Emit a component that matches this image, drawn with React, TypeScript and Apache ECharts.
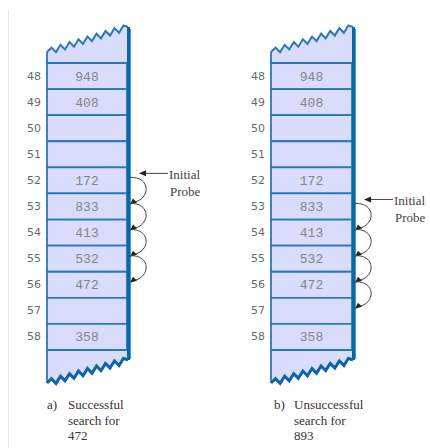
import React, { useEffect, useRef } from "react";
import * as echarts from "echarts";

// Hash table slots and stored keys (blank = empty slot)
const slots = ["48", "49", "50", "51", "52", "53", "54", "55", "56", "57", "58"];
const keys = ["948", "408", "", "", "172", "833", "413", "532", "472", "", "358"];

// Linear probe sequences: [from slot, to slot]
const probesA = [["52", "53"], ["53", "54"], ["54", "55"], ["55", "56"]];
const probesB = [["53", "54"], ["54", "55"], ["55", "56"], ["56", "57"]];
const initialA = "52";
const initialB = "53";
const probeLabel = ["Initial", "Probe"];

const captionA = ["a)", "Successful", "search for", "472"];
const captionB = ["b)", "Unsuccessful", "search for", "893"];

const FILL = "#d9dcfb";
const LINE = "#2a78b8";
const EDGE = "#0f63a8";
const TEAL = "#3fa6a0";
const ARC = "#444";

function zigzag(xl: number, yl: number, xr: number, yr: number, n: number, amp: number) {
  const pts: number[][] = [];
  for (let j = 0; j <= 2 * n; j++) {
    const t = j / (2 * n);
    const off = j === 0 || j === 2 * n ? 0 : j % 2 ? -amp : amp;
    pts.push([xl + t * (xr - xl), yl + t * (yr - yl) + off]);
  }
  return pts;
}

function cellRender(params: any, api: any) {
  const i = api.value(1);
  const [x0, yc] = api.coord([0, i]);
  const [x1] = api.coord([1, i]);
  const h = api.size([0, 1])[1];
  const yt = yc - h / 2;
  return {
    type: "group",
    children: [
      {
        type: "rect",
        shape: { x: x0, y: yt, width: x1 - x0, height: h },
        style: { fill: FILL, stroke: LINE, lineWidth: 1.8 },
      },
      {
        type: "text",
        style: {
          text: keys[params.dataIndex],
          x: (x0 + x1) / 2,
          y: yc + 1,
          align: "center",
          verticalAlign: "middle",
          fill: "#858585",
          font: '13px "Liberation Mono"',
        },
      },
    ],
  };
}

function edgeRender(params: any, api: any) {
  const i = api.value(1);
  const kind = api.value(2);
  const [x0, yc] = api.coord([0, i]);
  const [x1] = api.coord([1, i]);
  const h = api.size([0, 1])[1];
  if (kind === 0) {
    const yb = yc - h / 2;
    const zz = zigzag(x0, yb - 11, x1 + 1, yb - 36, 9, 3);
    return {
      type: "group",
      children: [
        {
          type: "polygon",
          shape: { points: [[x0, yb], ...zz, [x1, yb]] },
          style: { fill: FILL },
        },
        {
          type: "polyline",
          shape: { points: zz },
          style: { stroke: LINE, lineWidth: 2, fill: null },
        },
        {
          type: "line",
          shape: { x1: x0, y1: yb - 11, x2: x0, y2: yb },
          style: { stroke: LINE, lineWidth: 1.8 },
        },
        {
          type: "line",
          shape: { x1: x0, y1: yb, x2: x1, y2: yb },
          style: { stroke: TEAL, lineWidth: 1.8 },
        },
      ],
    };
  }
  const yt = yc + h / 2;
  const zz = zigzag(x1 + 1, yt + 10, x0, yt + 33, 9, 3);
  return {
    type: "group",
    children: [
      {
        type: "polygon",
        shape: { points: [[x0, yt], [x1, yt], ...zz] },
        style: { fill: FILL },
      },
      {
        type: "line",
        shape: { x1: x0, y1: yt, x2: x0, y2: yt + 33 },
        style: { stroke: LINE, lineWidth: 1.8 },
      },
      {
        type: "polyline",
        shape: { points: zz },
        style: { stroke: EDGE, lineWidth: 3, fill: null },
      },
    ],
  };
}

function spineRender(params: any, api: any) {
  const [x1, y0c] = api.coord([1, 0]);
  const [, y1c] = api.coord([1, slots.length - 1]);
  const h = api.size([0, 1])[1];
  const top = y0c - h / 2 - 36;
  const bot = y1c + h / 2 + 10;
  return {
    type: "group",
    children: [
      {
        type: "line",
        shape: { x1: x1 + 3.5, y1: top + 2, x2: x1 + 3.5, y2: bot - 1 },
        style: { stroke: TEAL, lineWidth: 1.2 },
      },
      {
        type: "line",
        shape: { x1: x1 + 1.5, y1: top, x2: x1 + 1.5, y2: bot },
        style: { stroke: EDGE, lineWidth: 3 },
      },
    ],
  };
}

function arcRender(params: any, api: any) {
  const a = api.value(1);
  const b = api.value(2);
  const [x1, ya] = api.coord([1, a]);
  const [, yb] = api.coord([1, b]);
  const h = api.size([0, 1])[1];
  const x = x1 + 3;
  const y1 = ya - h / 2 + 10;
  const y2 = yb - h / 2 + 10;
  return {
    type: "group",
    children: [
      {
        type: "bezierCurve",
        shape: { x1: x, y1: y1, cpx1: x + 21, cpy1: y1 - 1, cpx2: x + 21, cpy2: y2 - 4, x2: x + 3, y2: y2 - 1 },
        style: { stroke: ARC, lineWidth: 1, fill: null },
      },
      {
        type: "polygon",
        shape: { points: [[x, y2 + 1], [x + 3, y2 - 5], [x + 7, y2 - 1]] },
        style: { fill: "#222" },
      },
    ],
  };
}

function initRender(params: any, api: any) {
  const i = api.value(1);
  const [x1, yc] = api.coord([1, i]);
  const h = api.size([0, 1])[1];
  const yt = yc - h / 2;
  const y = yt + 6;
  return {
    type: "group",
    children: [
      {
        type: "line",
        shape: { x1: x1 + 16, y1: y, x2: x1 + 41, y2: y },
        style: { stroke: ARC, lineWidth: 1 },
      },
      {
        type: "polygon",
        shape: { points: [[x1 + 12, y], [x1 + 19, y - 3], [x1 + 19, y + 3]] },
        style: { fill: "#222" },
      },
      {
        type: "text",
        style: {
          text: probeLabel[0],
          x: x1 + 42,
          y: yt + 7,
          verticalAlign: "middle",
          fill: "#444",
          font: '13px "Liberation Serif"',
        },
      },
      {
        type: "text",
        style: {
          text: probeLabel[1],
          x: x1 + 43,
          y: yt + 24,
          verticalAlign: "middle",
          fill: "#444",
          font: '13px "Liberation Serif"',
        },
      },
    ],
  };
}

function tableSeries(g: number, probes: string[][], initial: string) {
  return [
    {
      type: "custom",
      xAxisIndex: g,
      yAxisIndex: g,
      renderItem: edgeRender,
      data: [
        [0, 0, 0],
        [0, slots.length - 1, 1],
      ],
      z: 1,
      silent: true,
    },
    {
      type: "custom",
      xAxisIndex: g,
      yAxisIndex: g,
      renderItem: cellRender,
      data: slots.map((_, i) => [0, i]),
      z: 2,
      silent: true,
    },
    {
      type: "custom",
      xAxisIndex: g,
      yAxisIndex: g,
      renderItem: spineRender,
      data: [[1, 0]],
      z: 3,
      silent: true,
    },
    {
      type: "custom",
      xAxisIndex: g,
      yAxisIndex: g,
      renderItem: arcRender,
      data: probes.map(([a, b]) => [1, slots.indexOf(a), slots.indexOf(b)]),
      z: 4,
      silent: true,
    },
    {
      type: "custom",
      xAxisIndex: g,
      yAxisIndex: g,
      renderItem: initRender,
      data: [[1, slots.indexOf(initial)]],
      z: 4,
      silent: true,
    },
  ];
}

function captionGraphic(lines: string[], xLabel: number, xText: number) {
  const font = '13px "Liberation Serif"';
  const out: any[] = [
    { type: "text", left: xLabel, top: 398, style: { text: lines[0], fill: "#333", font } },
  ];
  for (let k = 1; k < lines.length; k++) {
    out.push({
      type: "text",
      left: xText,
      top: 398 + (k - 1) * 15.5,
      style: { text: lines[k], fill: "#333", font },
    });
  }
  return out;
}

export default function App() {
  const ref = useRef<HTMLDivElement>(null);
  useEffect(() => {
    if (!ref.current) return;
    const chart = echarts.init(ref.current, null, { renderer: "svg" });
    const yAxisBase = {
      type: "category",
      data: slots,
      inverse: true,
      axisLine: { show: false },
      axisTick: { show: false },
      splitLine: { show: false },
      axisLabel: {
        color: "#6a6a6a",
        fontSize: 11,
        fontFamily: "DejaVu Sans",
        margin: 6,
      },
    };
    const xAxisBase = { type: "value", min: 0, max: 1, show: false };
    chart.setOption({
      animation: false,
      backgroundColor: "#ffffff",
      grid: [
        { left: 47, top: 63, width: 80, height: 287 },
        { left: 271, top: 63, width: 81, height: 287 },
      ],
      xAxis: [
        { ...xAxisBase, gridIndex: 0 },
        { ...xAxisBase, gridIndex: 1 },
      ],
      yAxis: [
        { ...yAxisBase, gridIndex: 0 },
        { ...yAxisBase, gridIndex: 1 },
      ],
      series: [...tableSeries(0, probesA, initialA), ...tableSeries(1, probesB, initialB)],
      graphic: [
        {
          type: "line",
          shape: { x1: 8.5, y1: 10, x2: 8.5, y2: 448 },
          style: { stroke: "#e6e6e6", lineWidth: 1 },
        },
        ...captionGraphic(captionA, 47, 68),
        ...captionGraphic(captionB, 274, 294),
      ],
    });
    return () => chart.dispose();
  }, []);
  return (
    <div
      ref={ref}
      style={{ position: "fixed", left: 0, top: 0, width: 430, height: 448 }}
    />
  );
}
